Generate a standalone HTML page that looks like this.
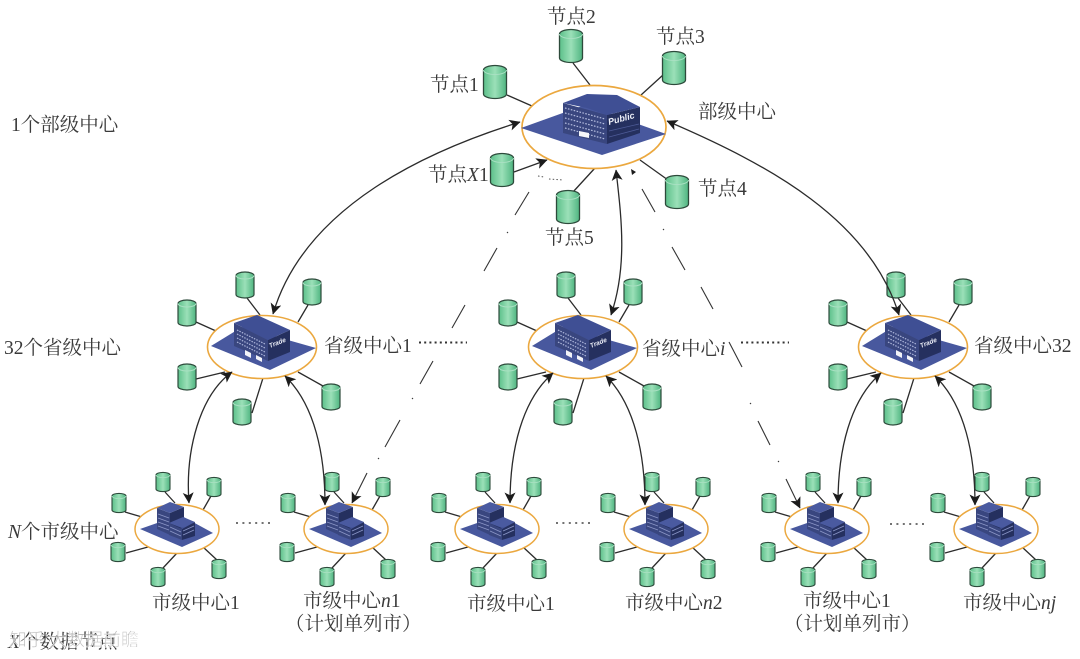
<!DOCTYPE html>
<html><head><meta charset="utf-8">
<style>
html,body{margin:0;padding:0;background:#fff;width:1080px;height:659px;overflow:hidden}
svg{display:block;filter:blur(.35px)}
text{font-family:"Liberation Serif","Noto Serif CJK SC",serif;font-size:19.5px;fill:#3a3a3a}
.i{font-style:italic}
.con{stroke:#2b2b2b;stroke-width:1.3;fill:none}
.arr{stroke:#2b2b2b;stroke-width:1.3;fill:none;marker-start:url(#ah);marker-end:url(#ah)}
.d{stroke:#333;stroke-width:1.1;fill:none}
text.sign{font-family:"Liberation Sans",sans-serif;font-weight:bold;font-style:italic;fill:#eef0f8}
</style></head><body>
<svg width="1080" height="659" viewBox="0 0 1080 659" xmlns="http://www.w3.org/2000/svg">
<defs>
<marker id="ah" viewBox="0 0 10 10" refX="9.5" refY="5" markerUnits="userSpaceOnUse" markerWidth="11" markerHeight="11" orient="auto-start-reverse"><path d="M0 0L10 5L0 10L2.5 5Z" fill="#1c1c1c"/></marker>
<linearGradient id="cg" x1="0" x2="1" y1="0" y2="0"><stop offset="0" stop-color="#5cc08a"/><stop offset=".5" stop-color="#9be0b8"/><stop offset="1" stop-color="#4fb581"/></linearGradient>
<g id="c1">
<path d="M-11.5-12A11.5 4.5 0 0 1 11.5-12V12A11.5 4.5 0 0 1-11.5 12Z" fill="url(#cg)" stroke="#2d4a3b" stroke-width="1.3"/>
<path d="M-11.5-12A11.5 4.5 0 0 0 11.5-12" fill="none" stroke="#a9e0c2" stroke-width="1"/>
</g>
<g id="c2">
<path d="M-9-9.5A9 3.5 0 0 1 9-9.5V9.5A9 3.5 0 0 1-9 9.5Z" fill="url(#cg)" stroke="#2d4a3b" stroke-width="1.2"/>
<path d="M-9-9.5A9 3.5 0 0 0 9-9.5" fill="none" stroke="#a9e0c2" stroke-width="1"/>
</g>
<g id="c3">
<path d="M-7-7A7 2.6 0 0 1 7-7V7A7 2.6 0 0 1-7 7Z" fill="url(#cg)" stroke="#2d4a3b" stroke-width="1.1"/>
<path d="M-7-7A7 2.6 0 0 0 7-7" fill="none" stroke="#a9e0c2" stroke-width=".8"/>
</g>

<g id="prov">
<path class="con" d="M-66-25L-46-16M-15-49L-2-32M46-42L36-25M-66 32L-37 25M-10 66L1 31M36 25L61 39"/>
<g transform="translate(-75 -34)"><use href="#c2"/></g>
<g transform="translate(-17 -62)"><use href="#c2"/></g>
<g transform="translate(50 -55)"><use href="#c2"/></g>
<g transform="translate(-75 30)"><use href="#c2"/></g>
<g transform="translate(-20 65)"><use href="#c2"/></g>
<g transform="translate(69 50)"><use href="#c2"/></g>
<ellipse cx="0" cy="0" rx="54.5" ry="31.5" fill="#fff" stroke="#eba83f" stroke-width="1.6"/>
<path d="M-51-1L-20-20L54 1L8 23Z" fill="#48589e"/>
<path d="M-28-24L6-7V14L-28-1Z" fill="#39467f"/>
<path d="M6-7L28-17V5L6 14Z" fill="#25305f"/>
<path d="M-28-24L-5-32L28-17L6-7Z" fill="#3f4f94"/>
<path d="M-25-17L3-3M-25-13L3 1M-25-9L3 5M-25-5L3 9" stroke="#aab3d8" stroke-width="1.2" stroke-dasharray="1.5 1.2"/>
<path d="M-17 3L-11 6V11L-17 8ZM-6 8L0 11V15L-6 12Z" fill="#f2f3f8"/>
<text class="sign" transform="translate(8 1) rotate(-22)" style="font-size:6.5px">Trade</text>
</g>

<g id="city">
<path class="con" d="M-52-17L-35-12M-12-37L-2-26M34-33L26-19M-51 24L-29 18M-14 39L0 24M26 18L40 31"/>
<g transform="translate(-58 -26)"><use href="#c3"/></g>
<g transform="translate(-14 -47)"><use href="#c3"/></g>
<g transform="translate(37 -42)"><use href="#c3"/></g>
<g transform="translate(-59 23)"><use href="#c3"/></g>
<g transform="translate(-19 48)"><use href="#c3"/></g>
<g transform="translate(42 40)"><use href="#c3"/></g>
<ellipse cx="0" cy="0" rx="42" ry="24.5" fill="#fff" stroke="#eba83f" stroke-width="1.5"/>
<path d="M-37 0L3-14L36 4L5 18Z" fill="#48589e"/>
<path d="M-20-21L-7-16V6L-20 0Z" fill="#39467f"/>
<path d="M-7-16L7-22V-2L-7 6Z" fill="#25305f"/>
<path d="M-20-21L-7-27L7-22L-7-16Z" fill="#4a5aa0"/>
<path d="M-8-6L5 0V11L-8 6Z" fill="#39467f"/>
<path d="M5 0L18-7V7L5 11Z" fill="#25305f"/>
<path d="M-8-6L6-12L18-7L5-1Z" fill="#4a5aa0"/>
<path d="M-19-15L-8-11M-19-11L-8-7M-19-7L-8-3M-19-3L-8 1M-7-2L4 3M-7 2L4 7M6 2L17-3M6 6L17 1" stroke="#8a95c6" stroke-width=".9"/>
</g>
</defs>

<rect width="1080" height="659" fill="#fff"/>

<!-- central centre -->
<path class="con" d="M507 95L532 106M573 63L590 85M663 75L641 95M640 160L668 180M595 168L573 192"/>
<path class="con" d="M514 172L547 160" marker-end="url(#ah)"/>
<g transform="translate(495 82)"><use href="#c1"/></g>
<g transform="translate(571 46)"><use href="#c1"/></g>
<g transform="translate(674 68)"><use href="#c1"/></g>
<g transform="translate(677 192)"><use href="#c1"/></g>
<g transform="translate(568 207)"><use href="#c1"/></g>
<g transform="translate(502 170)"><use href="#c1"/></g>
<ellipse cx="594" cy="127" rx="72" ry="41.5" fill="#fff" stroke="#eba83f" stroke-width="1.7"/>
<path d="M521 128L585 105L666 134L602 155Z" fill="#48589e"/>
<path d="M563 103L607 115V144L563 133Z" fill="#39467f"/>
<path d="M607 115L640 107V133L607 144Z" fill="#25305f"/>
<path d="M563 103L587 94L617 95L640 107L607 115L587 108Z" fill="#3f4f94"/>
<path d="M565 108L605 119M565 113L605 124M565 118L605 129M565 123L605 134M565 128L605 139" stroke="#b4bcde" stroke-width="1.2" stroke-dasharray="1.6 1.4"/>
<path d="M609 131L639 124M609 137L639 129" stroke="#4d5a96" stroke-width=".8"/>
<path d="M579 131L589 133V138L579 136Z" fill="#f5f6fa"/>
<text class="sign" transform="translate(609 125) rotate(-15)" style="font-size:9px">Public</text>
<path d="M631 169L636 172L632 175Z" fill="#1c1c1c"/>
<path d="M538 176L544 177M549 179L563 180" stroke="#555" stroke-width="1" stroke-dasharray="1.5 2.2" fill="none"/>

<!-- provincial and city clusters -->
<use href="#prov" transform="translate(262 347)"/>
<use href="#prov" transform="translate(583 347)"/>
<use href="#prov" transform="translate(913 347)"/>
<use href="#city" transform="translate(177 529)"/>
<use href="#city" transform="translate(346 529)"/>
<use href="#city" transform="translate(497 529)"/>
<use href="#city" transform="translate(666 529)"/>
<use href="#city" transform="translate(827 529)"/>
<use href="#city" transform="translate(996 529)"/>

<!-- curved connectors -->
<path class="arr" d="M520 122C430 150 305 205 273 314"/>
<path class="arr" d="M616 170C621 215 628 265 611 315"/>
<path class="arr" d="M667 121C770 165 870 220 899 315"/>
<path class="arr" d="M232 372C200 395 185 450 189 503"/>
<path class="arr" d="M285 376C315 405 325 455 325 505"/>
<path class="arr" d="M553 373C522 400 510 450 510 503"/>
<path class="arr" d="M606 376C635 405 645 455 645 505"/>
<path class="arr" d="M881 373C850 400 838 450 838 503"/>
<path class="arr" d="M935 376C965 405 975 455 975 505"/>

<!-- dashed lines -->
<path class="d" d="M529 192L515 215M507 232L508 233M497 248L484 271M465 305L452 328M433 361L420 384M412 398L413 399M400 420L385 447M378 458L379 459"/>
<path class="d" d="M367 473L352 503" marker-end="url(#ah)"/>
<path class="d" d="M642 189L655 212M663 229L664 230M672 247L685 270M701 287L713 309M729 342L742 367M750 403L751 404M758 421L770 445M778 461L779 462"/>
<path class="d" d="M786 479L800 508" marker-end="url(#ah)"/>

<!-- dots -->
<path d="M419 342.5H467M741 342.5H789" stroke="#333" stroke-width="2" stroke-dasharray="2 3.2"/>
<path d="M236 523H272M556 523H592M890 524H925" stroke="#444" stroke-width="1.6" stroke-dasharray="2 4.4"/>

<!-- labels -->
<g transform="translate(-1 0)">
<text x="431" y="91">节点1</text>
<text x="548" y="23">节点2</text>
<text x="657" y="43">节点3</text>
<text x="699" y="118">部级中心</text>
<text x="699" y="195">节点4</text>
<text x="429" y="181">节点<tspan class="i">X</tspan>1</text>
<text x="546" y="244">节点5</text>
<text x="12" y="131">1个部级中心</text>
<text x="5" y="354">32个省级中心</text>
<text x="325" y="352">省级中心1</text>
<text x="643" y="355">省级中心<tspan class="i">i</tspan></text>
<text x="975" y="352">省级中心32</text>
<text x="9" y="538"><tspan class="i">N</tspan>个市级中心</text>
<text x="153" y="609">市级中心1</text>
<text x="304" y="607">市级中心<tspan class="i">n</tspan>1</text>
<text x="286" y="630">（计划单列市）</text>
<text x="468" y="610">市级中心1</text>
<text x="626" y="609">市级中心<tspan class="i">n</tspan>2</text>
<text x="804" y="607">市级中心1</text>
<text x="785" y="630">（计划单列市）</text>
<text x="964" y="609">市级中心<tspan class="i">nj</tspan></text>
<text x="9" y="648"><tspan class="i">X</tspan>个数据节点</text>
</g>
<text x="9" y="646" style="font-family:'Liberation Sans','Noto Sans CJK SC',sans-serif;font-size:18px;fill:#aaa;stroke:#fff;stroke-width:.6;opacity:.8">知乎</text>
<text x="49" y="646" style="font-family:'Liberation Sans','Noto Sans CJK SC',sans-serif;font-size:18px;fill:#aaa;stroke:#fff;stroke-width:.6;opacity:.8">大数据前瞻</text>
</svg>
</body></html>
